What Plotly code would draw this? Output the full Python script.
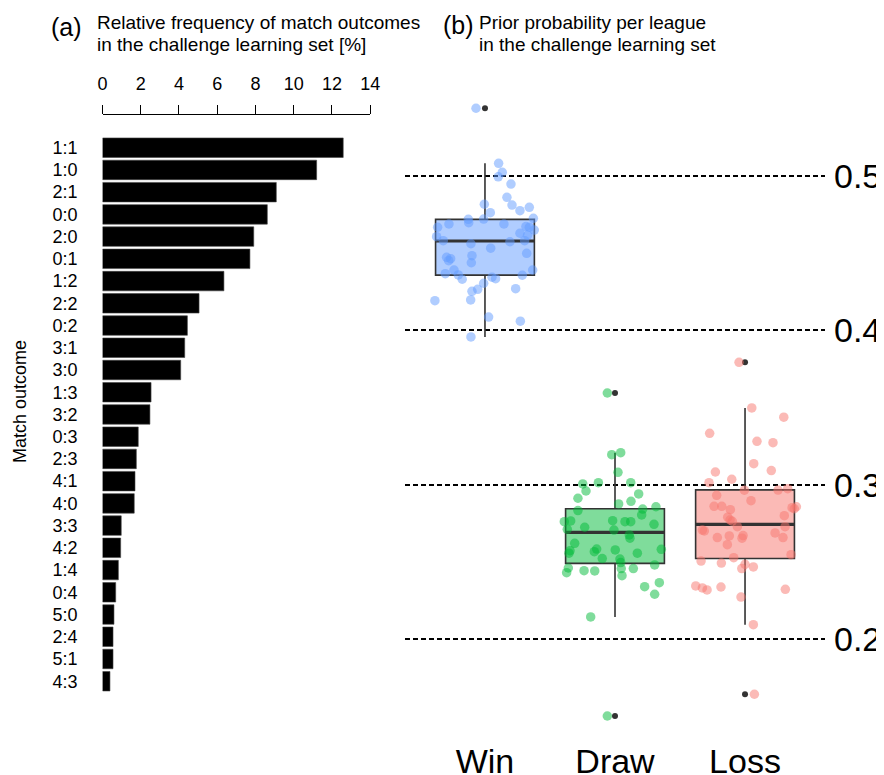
import plotly.graph_objects as go

# ---------------- data: panel (a) ----------------
outcomes = ["1:1", "1:0", "2:1", "0:0", "2:0", "0:1", "1:2", "2:2", "0:2", "3:1",
            "3:0", "1:3", "3:2", "0:3", "2:3", "4:1", "4:0", "3:3", "4:2", "1:4",
            "0:4", "5:0", "2:4", "5:1", "4:3"]
freq_pct = [12.59, 11.20, 9.09, 8.62, 7.91, 7.71, 6.35, 5.05, 4.44, 4.30,
            4.09, 2.54, 2.48, 1.87, 1.77, 1.70, 1.66, 0.98, 0.95, 0.83,
            0.69, 0.60, 0.55, 0.55, 0.39]
freq_ticks = [0, 2, 4, 6, 8, 10, 12, 14]

# ---------------- data: panel (b) ----------------
categories = ["Win", "Draw", "Loss"]

win_probs = [0.5439, 0.5082, 0.5024, 0.4995, 0.4948, 0.4862, 0.4817, 0.4812, 0.4797, 0.4775,
             0.4762, 0.4726, 0.4719, 0.4721, 0.4697, 0.4689, 0.4689, 0.4668, 0.4672, 0.4668,
             0.4650, 0.4629, 0.4616, 0.4607, 0.4581, 0.4581, 0.4574, 0.4561, 0.4532, 0.4499,
             0.4484, 0.4473, 0.4464, 0.4451, 0.4438, 0.4391, 0.4391, 0.4367, 0.4359, 0.4357,
             0.4331, 0.4344, 0.4335, 0.4305, 0.4266, 0.4253, 0.4270, 0.4192, 0.4197, 0.4086,
             0.4059, 0.3957]
win_jitter = [-0.069, 0.105, 0.133, 0.102, 0.200, 0.169, -0.005, 0.208, 0.341, 0.269,
              0.041, 0.372, -0.128, -0.010, -0.125, -0.277, 0.146, -0.364, 0.315, 0.341,
              0.379, 0.269, 0.328, -0.372, -0.321, 0.305, 0.192, -0.108, 0.044, 0.321,
              -0.100, -0.295, -0.264, -0.279, -0.105, 0.367, -0.238, -0.305, -0.205, 0.287,
              -0.175, 0.054, 0.082, -0.010, -0.056, -0.100, 0.236, -0.385, -0.110, 0.028,
              0.272, -0.108]

draw_probs = [0.3194, 0.3207, 0.3080, 0.3005, 0.3013, 0.3013, 0.2959, 0.2940, 0.2912, 0.2892,
              0.2875, 0.2857, 0.2832, 0.2842, 0.2804, 0.2760, 0.2765, 0.2767, 0.2760, 0.2760,
              0.2743, 0.2724, 0.2711, 0.2706, 0.2674, 0.2653, 0.2620, 0.2583, 0.2572, 0.2566,
              0.2577, 0.2581, 0.2556, 0.2556, 0.2521, 0.2518, 0.2495, 0.2480, 0.2460, 0.2456,
              0.2456, 0.2443, 0.2441, 0.2430, 0.2410, 0.2339, 0.2365, 0.2290, 0.2143, 0.3594,
              0.1501]
draw_jitter = [-0.025, 0.044, 0.023, -0.248, -0.128, 0.121, -0.223, 0.182, -0.285, 0.123,
               0.028, 0.315, -0.285, 0.213, 0.205, -0.390, -0.341, -0.018, 0.077, 0.121,
               0.300, -0.233, -0.367, -0.008, 0.110, 0.115, -0.310, -0.141, -0.346, -0.159,
               0.002, 0.356, -0.354, 0.172, -0.098, 0.038, 0.044, 0.305, -0.359, 0.048,
               0.141, -0.238, -0.156, -0.372, 0.054, 0.228, 0.341, 0.305, -0.187, -0.059,
               -0.059]

loss_probs = [0.3497, 0.3437, 0.3333, 0.3281, 0.3272, 0.3136, 0.3091, 0.3082, 0.3035, 0.3013,
              0.2964, 0.2965, 0.2974, 0.2931, 0.2896, 0.2860, 0.2860, 0.2838, 0.2851, 0.2857,
              0.2844, 0.2799, 0.2789, 0.2771, 0.2763, 0.2728, 0.2728, 0.2706, 0.2700, 0.2687,
              0.2657, 0.2668, 0.2670, 0.2653, 0.2657, 0.2611, 0.2546, 0.2527, 0.2505, 0.2492,
              0.2484, 0.2467, 0.2456, 0.2344, 0.2331, 0.2318, 0.2337, 0.2322, 0.2272, 0.2093,
              0.3793, 0.1642]
loss_jitter = [0.052, 0.298, -0.272, 0.092, 0.215, 0.067, 0.202, -0.228, -0.102, -0.277,
               -0.005, 0.254, 0.328, -0.218, 0.046, -0.238, -0.179, -0.113, 0.362, 0.395,
               0.379, 0.302, -0.133, -0.115, -0.098, -0.059, 0.308, -0.328, -0.313, 0.231,
               -0.213, -0.121, -0.015, -0.023, 0.292, -0.136, 0.354, -0.087, -0.338, -0.182,
               0.000, 0.064, -0.025, -0.379, -0.328, -0.292, -0.185, 0.310, -0.031, 0.064,
               -0.046, 0.072]

box_q1 = [0.4358, 0.2490, 0.2522]
box_median = [0.4579, 0.2691, 0.2743]
box_q3 = [0.4719, 0.2844, 0.2966]
box_lower = [0.3957, 0.2143, 0.2093]
box_upper = [0.5082, 0.3207, 0.3497]
prob_ticks = [0.2, 0.3, 0.4, 0.5]

# ---------------- styles ----------------
FONT = "Liberation Sans, Arial, Helvetica, sans-serif"
OFF = 8  # page body margin in the browser
W, H = 884 + OFF, 775 + OFF
point_colors = ["rgba(97,156,255,0.5)", "rgba(0,186,56,0.5)", "rgba(248,118,109,0.5)"]
box_fills = ["rgba(97,156,255,0.5)", "rgba(0,186,56,0.5)", "rgba(248,118,109,0.5)"]
BOX_W = 0.76
DARK = "#333333"


def px(x):
    return (x - OFF) / W


def py(y):
    return 1 - (y - OFF) / H


fig = go.Figure()

# panel (a) bars
fig.add_trace(go.Bar(
    x=freq_pct, y=outcomes, orientation="h",
    marker=dict(color="black", line=dict(color="#444444", width=0.6)),
    xaxis="x", yaxis="y", showlegend=False, hoverinfo="x+y",
))

# panel (b)
groups = [(win_probs, win_jitter), (draw_probs, draw_jitter), (loss_probs, loss_jitter)]
for i, cat in enumerate(categories):
    fig.add_trace(go.Box(
        x=[i], q1=[box_q1[i]], median=[box_median[i]], q3=[box_q3[i]],
        lowerfence=[box_lower[i]], upperfence=[box_upper[i]],
        width=BOX_W, whiskerwidth=0, fillcolor=box_fills[i],
        line=dict(color=DARK, width=1.6),
        boxpoints=False, xaxis="x2", yaxis="y2", showlegend=False, name=cat,
    ))
    # thicker median line
    fig.add_trace(go.Scatter(
        x=[i - BOX_W / 2, i + BOX_W / 2], y=[box_median[i], box_median[i]],
        mode="lines", line=dict(color=DARK, width=3.2),
        xaxis="x2", yaxis="y2", showlegend=False, hoverinfo="skip",
    ))
    vals, jit = groups[i]
    outl = [v for v in vals if v > box_upper[i] or v < box_lower[i]]
    fig.add_trace(go.Scatter(
        x=[i] * len(outl), y=outl, mode="markers",
        marker=dict(color=DARK, size=6),
        xaxis="x2", yaxis="y2", showlegend=False,
    ))
    fig.add_trace(go.Scatter(
        x=[i + j for j in jit], y=vals, mode="markers",
        marker=dict(color=point_colors[i], size=9.5, line=dict(width=0)),
        xaxis="x2", yaxis="y2", showlegend=False, name=cat,
    ))

# geometry for panel (a)
x0_px, unit_px = 102.5, 19.12
bar_top_center, bar_step = 147.7, 22.23
ya_top_px, ya_bot_px = 115, 700

# geometry for panel (b)
b_left, b_right = 405, 825
b_top, b_bot = 95, 730
v_hi = 0.5 + (176 - b_top) / 1543.3
v_lo = 0.2 - (b_bot - 639) / 1543.3

fig.update_layout(
    width=W, height=H,
    margin=dict(l=0, r=0, t=0, b=0, pad=0, autoexpand=False),
    paper_bgcolor="white", plot_bgcolor="white",
    font=dict(family=FONT, color="black"),
    bargap=0.123, boxmode="overlay",
    xaxis=dict(
        domain=[px(x0_px), px(x0_px + 14 * unit_px)], range=[0, 14],
        side="top", anchor="y", tickvals=freq_ticks,
        showline=True, linecolor="black", linewidth=1,
        ticks="outside", ticklen=9, tickwidth=1, tickcolor="black",
        tickfont=dict(size=18), showgrid=False, zeroline=False,
        ticklabelstandoff=8,
    ),
    yaxis=dict(
        domain=[py(ya_bot_px), py(ya_top_px)], type="category",
        categoryorder="array", categoryarray=outcomes,
        range=[(ya_bot_px - bar_top_center) / bar_step, -(bar_top_center - ya_top_px) / bar_step],
        anchor="x", showline=False, ticks="", showgrid=False, zeroline=False,
        tickfont=dict(size=18), ticklabelstandoff=24,
    ),
    xaxis2=dict(
        domain=[px(b_left), px(b_right)], range=[-0.615, 2.615], anchor="y2",
        tickvals=[0, 1, 2], ticktext=categories, tickfont=dict(size=34),
        showgrid=False, zeroline=False, showline=False, ticks="",
        ticklabelstandoff=8,
    ),
    yaxis2=dict(
        domain=[py(b_bot), py(b_top)], range=[v_lo, v_hi], anchor="x2", side="right",
        tickvals=prob_ticks, tickformat=".1f", tickfont=dict(size=34),
        showgrid=True, gridcolor="black", gridwidth=2, griddash="5px,3px",
        zeroline=False, showline=False, ticks="", ticklabelstandoff=8,
    ),
    annotations=[
        dict(text="(a)", x=px(49), y=py(27), xref="paper", yref="paper",
             xanchor="left", yanchor="middle", showarrow=False, font=dict(size=25)),
        dict(text="Relative frequency of match outcomes", x=px(95), y=py(22),
             xref="paper", yref="paper", xanchor="left", yanchor="middle",
             showarrow=False, font=dict(size=19)),
        dict(text="in the challenge learning set [%]", x=px(95), y=py(45),
             xref="paper", yref="paper", xanchor="left", yanchor="middle",
             showarrow=False, font=dict(size=19)),
        dict(text="(b)", x=px(441), y=py(25), xref="paper", yref="paper",
             xanchor="left", yanchor="middle", showarrow=False, font=dict(size=25)),
        dict(text="Prior probability per league", x=px(477), y=py(22),
             xref="paper", yref="paper", xanchor="left", yanchor="middle",
             showarrow=False, font=dict(size=19)),
        dict(text="in the challenge learning set", x=px(477), y=py(45),
             xref="paper", yref="paper", xanchor="left", yanchor="middle",
             showarrow=False, font=dict(size=19)),
        dict(text="Match outcome", x=px(20), y=py(402), xref="paper", yref="paper",
             xanchor="center", yanchor="middle", textangle=-90, showarrow=False,
             font=dict(size=18)),
    ],
)

fig.write_html("out.html")
